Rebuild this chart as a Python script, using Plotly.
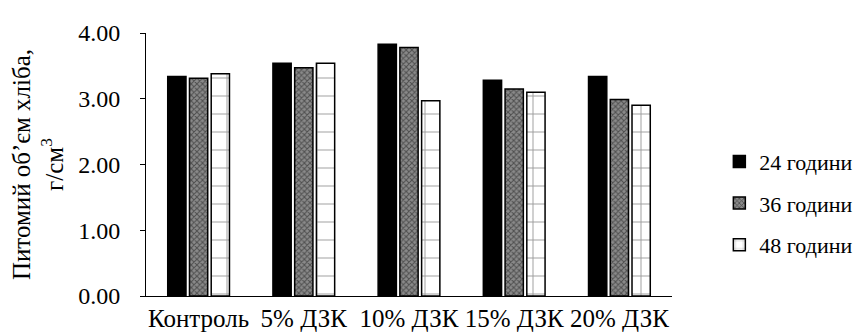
import plotly.graph_objects as go

categories = ["Контроль", "5% ДЗК", "10% ДЗК", "15% ДЗК", "20% ДЗК"]
series_names = ["24 години", "36 години", "48 години"]
v24 = [3.34, 3.54, 3.83, 3.28, 3.34]
v36 = [3.31, 3.47, 3.78, 3.15, 2.99]
v48 = [3.38, 3.54, 2.97, 3.10, 2.90]

font = "Times New Roman"

fig = go.Figure()
fig.add_trace(go.Bar(
    x=categories, y=v24, name=series_names[0], legendgroup="a",
    marker=dict(color="black", line=dict(color="black", width=1.5)),
))
fig.add_trace(go.Bar(
    x=categories, y=v36, name=series_names[1], legendgroup="b",
    marker=dict(color="#555555", line=dict(color="black", width=1.5),
                pattern=dict(shape="x", fgcolor="#111111", bgcolor="#8a8a8a", size=4, solidity=0.45)),
))
fig.add_trace(go.Bar(
    x=categories, y=v48, name=series_names[2], legendgroup="c",
    marker=dict(color="white", line=dict(color="black", width=1.5),
                pattern=dict(shape="+", fgcolor="#333333", bgcolor="white", size=18, solidity=0.1)),
))

fig.update_layout(
    width=862, height=336,
    margin=dict(l=137, r=162, t=20, b=43),
    paper_bgcolor="white", plot_bgcolor="white",
    barmode="group", bargap=0.38, bargroupgap=0.16,
    font=dict(family=font, size=24, color="black"),
    showlegend=True,
    legend=dict(x=1.09, y=0.353, xanchor="left", yanchor="middle",
                tracegroupgap=10, font=dict(size=22, family=font),
                itemwidth=30, bgcolor="rgba(0,0,0,0)"),
    xaxis=dict(showline=True, linecolor="black", linewidth=1, ticks="",
               tickfont=dict(size=25, family=font), showgrid=False),
    yaxis=dict(range=[0, 4], dtick=1, tickformat=".2f", showline=True,
               linecolor="black", linewidth=1, ticks="outside", ticklen=5,
               tickcolor="black", showgrid=False, zeroline=False,
               ticklabelstandoff=15,
               tickfont=dict(size=24, family=font),
               title=dict(text="Питомий об’єм хліба,<br>г/см<sup>3</sup>",
                          font=dict(size=25, family=font), standoff=8)),
)

fig.write_html("out.html")
